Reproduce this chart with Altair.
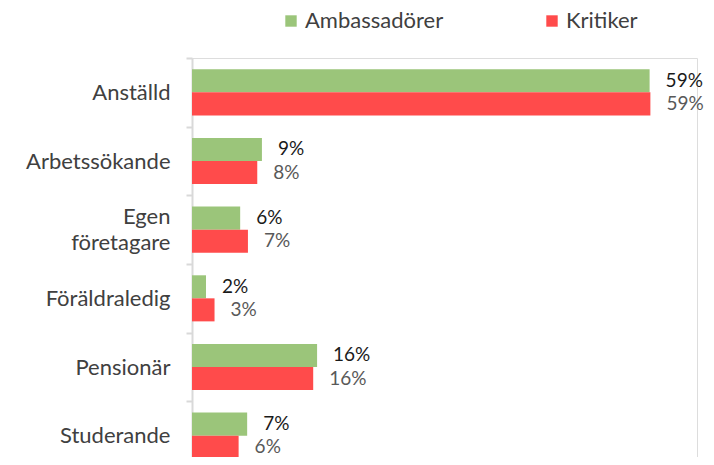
import altair as alt
import pandas as pd

categories = ["Anställd", "Arbetssökande", "Egen företagare", "Föräldraledig", "Pensionär", "Studerande"]
series = ["Ambassadörer", "Kritiker"]
ambassadorer = [58.9, 9.0, 6.2, 1.8, 16.1, 7.1]
kritiker = [59.0, 8.4, 7.2, 2.9, 15.6, 6.0]
bar_colors = ["#9BC57A", "#FF4B4B"]
label_colors = ["#1a1a1a", "#595959"]

rows = []
for i, c in enumerate(categories):
    rows.append({"category": c, "series": series[0], "value": ambassadorer[i]})
    rows.append({"category": c, "series": series[1], "value": kritiker[i]})
df = pd.DataFrame(rows)

FONT = "Lato"

y_enc = alt.Y(
    "category:N",
    sort=categories,
    scale=alt.Scale(paddingInner=0, paddingOuter=0, range=[0, 412]),
    axis=alt.Axis(
        title=None,
        labelExpr="split(datum.label, ' ')",
        labelFontSize=22,
        labelColor="#404040",
        labelFont=FONT,
        labelPadding=16,
        labelLineHeight=26,
        labelOffset=alt.condition("datum.label == 'Egen företagare'", alt.value(-13), alt.value(0)),
        labelLimit=0,
        tickBand="extent",
        tickSize=6,
        tickColor="#d9d9d9",
        tickWidth=2,
        domainColor="#d9d9d9",
        domainWidth=2,
        grid=False,
    ),
)
yoff = alt.YOffset("series:N", sort=series, scale=alt.Scale(paddingInner=0, paddingOuter=0.49))
x_enc = alt.X("value:Q", scale=alt.Scale(domain=[0, 65]), axis=None)

base = alt.Chart(df)

bars = base.mark_bar().encode(
    y=y_enc,
    yOffset=yoff,
    x=x_enc,
    color=alt.Color(
        "series:N",
        sort=series,
        scale=alt.Scale(domain=series, range=bar_colors),
        legend=alt.Legend(
            title=None,
            orient="none",
            direction="horizontal",
            legendX=88,
            legendY=-48,
            symbolType="square",
            symbolSize=130,
            symbolStrokeWidth=0,
            labelFontSize=22,
            labelFont=FONT,
            labelColor="#404040",
            labelOffset=3,
            labelLimit=0,
            columnPadding=97,
            padding=0,
        ),
    ),
)

texts = []
for s, col in zip(series, label_colors):
    t = (
        base.transform_filter(alt.datum.series == s)
        .transform_calculate(label="format(datum.value, '.0f') + '%'")
        .mark_text(align="left", baseline="middle", dx=16, fontSize=19, font=FONT, color=col)
        .encode(y=y_enc, yOffset=yoff, x=x_enc, text="label:N")
    )
    texts.append(t)

chart = (
    alt.layer(bars, *texts)
    .properties(
        width=505,
        height=399,
        autosize=alt.AutoSizeParams(type="none"),
        padding={"left": 184, "top": 50, "right": 7, "bottom": 0},
    )
    .configure_view(stroke=None)
    .configure(font=FONT)
)

chart.save("out.html", embed_options={"renderer": "svg", "actions": False})
